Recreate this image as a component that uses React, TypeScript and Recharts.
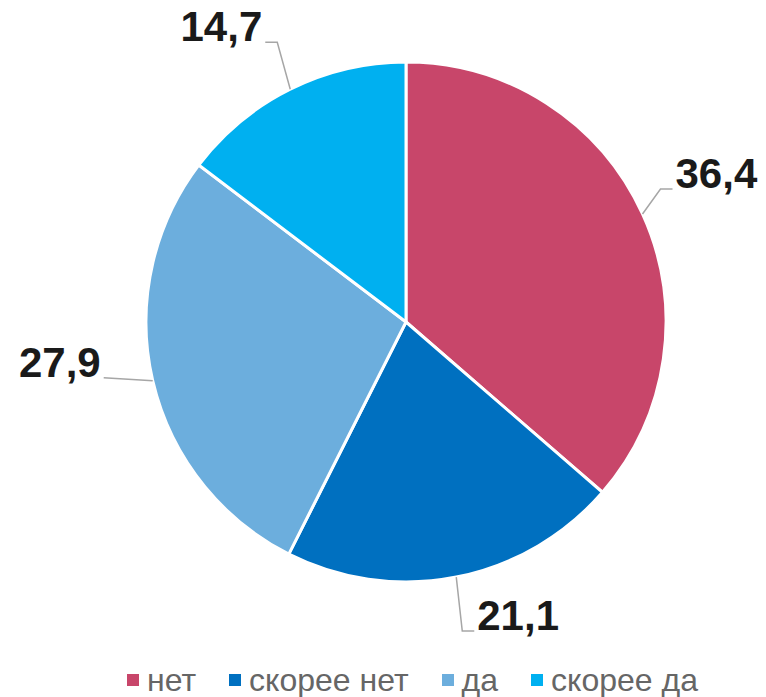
import React from 'react';
import { Legend, Pie, PieChart, Cell } from 'recharts';

const categories = ['нет', 'скорее нет', 'да', 'скорее да'];
const values = [36.4, 21.1, 27.9, 14.7];
const colors = ['#C8466A', '#0070C0', '#6CAEDD', '#00B0F0'];

// leader line layout per slice: elbow offset from slice edge, then horizontal run
const leaders = [
  { dx: 18, dy: -25, run: 12 },
  { dx: 6, dy: 54, run: 12 },
  { dx: -49, dy: -3, run: 0 },
  { dx: -13, dy: -47, run: -12 },
];

const data = categories.map((name, i) => ({ name, value: values[i] }));

const RAD = Math.PI / 180;

function renderLabel(props: any) {
  const { cx, cy, midAngle, outerRadius, index, value } = props;
  const sx = cx + outerRadius * Math.cos(-midAngle * RAD);
  const sy = cy + outerRadius * Math.sin(-midAngle * RAD);
  const l = leaders[index];
  const ex = sx + l.dx;
  const ey = sy + l.dy;
  const hx = ex + l.run;
  const right = l.run > 0 || (l.run === 0 && l.dx > 0);
  const tx = right ? hx + 3 : hx - 3;
  return (
    <g>
      <polyline
        points={`${sx},${sy} ${ex},${ey} ${hx},${ey}`}
        fill="none"
        stroke="#A6A6A6"
        strokeWidth={1.5}
      />
      <text
        x={tx}
        y={ey - 1}
        textAnchor={right ? 'start' : 'end'}
        fontFamily="'Liberation Sans', Arial, sans-serif"
        fontWeight="bold"
        fontSize={42}
        fill="#1A1A1A"
      >
        {String(value).replace('.', ',')}
      </text>
    </g>
  );
}

function LegendContent() {
  return (
    <div style={{ display: 'flex', alignItems: 'center', paddingLeft: 127 }}>
      {categories.map((c, i) => (
        <div key={c} style={{ display: 'flex', alignItems: 'center', marginRight: 33 }}>
          <span style={{ width: 12, height: 12, background: colors[i], display: 'inline-block', marginRight: 8 }} />
          <span style={{ color: '#666', fontSize: 32, lineHeight: '34px', fontFamily: "'Liberation Sans', Arial, sans-serif" }}>{c}</span>
        </div>
      ))}
    </div>
  );
}

export default function App() {
  return (
    <div style={{ position: 'absolute', left: 0, top: 0, background: '#fff' }}>
      <PieChart width={766} height={697}>
        <Pie
          data={data}
          dataKey="value"
          nameKey="name"
          cx={401}
          cy={317}
          outerRadius={260}
          startAngle={90}
          endAngle={-270}
          stroke="#fff"
          strokeWidth={3}
          label={renderLabel}
          labelLine={false}
          isAnimationActive={false}
        >
          {data.map((d, i) => (
            <Cell key={d.name} fill={colors[i]} />
          ))}
        </Pie>
        <Legend content={LegendContent} wrapperStyle={{ top: 663, left: 0, width: 766 }} />
      </PieChart>
    </div>
  );
}
